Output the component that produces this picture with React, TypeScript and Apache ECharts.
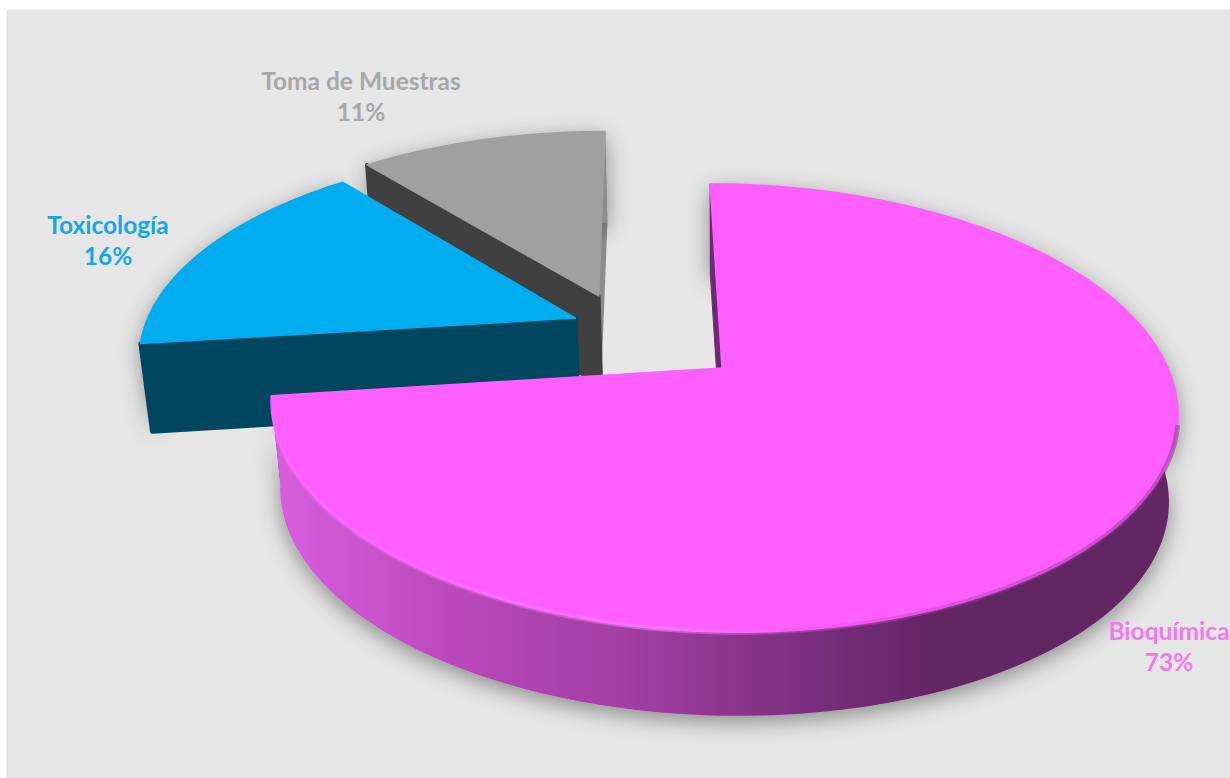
import React, { useEffect, useRef } from "react";
import * as echarts from "echarts";

const categories = ["Bioquímica", "Toxicología", "Toma de Muestras"];
const shares = [73, 16, 11];
const topColors = ["#FF5FFF", "#00AEEF", "#A0A0A0"];
const frontCutColors = ["#682A70", "#00465F", "#404040"];
const backCutColors = ["#622663", "#00465F", "#8C8C8C"];
const wallColors = ["#622663", "#00465F", "#8C8C8C"];
const labelColors = ["#F478F0", "#12A8EA", "#A8A8A8"];
// Label centres in page pixels
const labelCentres = [[1169, 646], [108, 240], [361, 96]];
// How far each slice is pulled out, in disc radii (across, towards the viewer)
const pullOut = [[0, 0], [-0.335, -0.24], [-0.283, -0.353]];
const drawOrder = [20, 10, 0];

// Perspective of the disc
const originX = 722;
const originY = 368;
const radiusX = 446;
const radiusY = 217;
const shear = 14;
const depthK = 0.1786;
const wallBase = 433;
const wallTop = 345;

type Pt = [number, number];

function project(u: number, v: number): Pt {
  const w = 1 - depthK * v;
  return [originX + (radiusX * u + shear * v) / w, originY + (radiusY * v) / w];
}
function lower(p: Pt): Pt {
  return [originX + (p[0] - originX) * 0.98, wallBase + (p[1] - wallTop) * 0.985];
}
function arcPoints(off: number[], a0: number, a1: number): Pt[] {
  const pts: Pt[] = [];
  const n = Math.max(8, Math.ceil(Math.abs(a1 - a0) / 1.5));
  for (let i = 0; i <= n; i++) {
    const t = ((a0 + ((a1 - a0) * i) / n) * Math.PI) / 180;
    pts.push(project(off[0] + Math.sin(t), off[1] - Math.cos(t)));
  }
  return pts;
}

const total = shares.reduce((a, b) => a + b, 0);

function renderSlice(params: any, api: any) {
  const i = params.dataIndex;
  const value = api.value(0);
  let before = 0;
  for (let k = 0; k < i; k++) before += shares[k];
  const a0 = (before / total) * 360;
  const a1 = ((before + value) / total) * 360;
  const off = pullOut[i];
  const apex = project(off[0], off[1]);
  const rim = arcPoints(off, a0, a1);
  const base = rim.map(lower);
  const z = drawOrder[i];
  const wallPoly = rim.concat(base.slice().reverse());
  const isMain = i === 0;
  const wallFill = isMain
    ? new echarts.graphic.LinearGradient(275, 0, 1000, 0, [
        { offset: 0, color: "#D85EDE" },
        { offset: 0.3, color: "#B445B5" },
        { offset: 0.5, color: "#A03EA2" },
        { offset: 0.72, color: "#7C2F80" },
        { offset: 0.92, color: "#622663" },
        { offset: 1, color: "#622663" },
      ], true)
    : wallColors[i];
  const first = rim[0];
  const last = rim[rim.length - 1];
  const children: any[] = [
    {
      type: "polygon",
      z2: z,
      shape: { points: [last, apex, lower(apex), lower(last)] },
      style: { fill: backCutColors[i] },
    },
    {
      type: "polygon",
      z2: z + 1,
      shape: { points: wallPoly },
      style: { fill: wallFill, shadowBlur: 22, shadowColor: "rgba(0,0,0,0.4)", shadowOffsetX: 0, shadowOffsetY: 6 },
    },
    {
      type: "polygon",
      z2: z + 2,
      shape: { points: [apex, first, lower(first), lower(apex)] },
      style: { fill: frontCutColors[i], stroke: frontCutColors[i], lineWidth: isMain ? 1 : 4, lineJoin: "round" },
    },
    {
      type: "polygon",
      z2: z + 3,
      shape: { points: [apex, ...rim] },
      style: { fill: topColors[i], stroke: topColors[i], lineWidth: 1.5, lineJoin: "round" },
    },
  ];
  if (isMain) {
    const edge = new echarts.graphic.LinearGradient(275, 0, 1177, 0, [
      { offset: 0, color: "rgba(255,120,255,0.25)" },
      { offset: 0.42, color: "rgba(255,140,255,0.6)" },
      { offset: 0.6, color: "rgba(225,85,225,0.5)" },
      { offset: 0.8, color: "rgba(165,60,170,0.55)" },
      { offset: 1, color: "rgba(130,50,135,0.6)" },
    ], true);
    const frontRim = rim.filter((p) => p[1] > 420);
    children.push({
      type: "polyline",
      z2: z + 4,
      shape: { points: frontRim },
      style: { fill: "none", stroke: edge, lineWidth: 5, opacity: 0.8 },
    });
  }
  children.push({
    type: "text",
    z2: 40,
    style: {
      text: `${categories[i]}\n${value}%`,
      x: labelCentres[i][0],
      y: labelCentres[i][1],
      fill: labelColors[i],
      font: "bold 24.5px Lato",
      lineHeight: 31,
      textAlign: "center",
      textVerticalAlign: "middle",
    },
  });
  return { type: "group", children };
}

export default function App() {
  const ref = useRef<HTMLDivElement>(null);
  useEffect(() => {
    const chart = echarts.init(ref.current!, undefined, { renderer: "svg" });
    chart.setOption({
      animation: false,
      backgroundColor: "#FFFFFF",
      graphic: [
        {
          type: "rect",
          z: -1,
          shape: { x: 7, y: 10, width: 1240, height: 790, r: 3 },
          style: { fill: "#E7E6E6", stroke: "#DEDDDD", lineWidth: 1 },
        },
      ],
      series: [
        {
          type: "custom",
          coordinateSystem: "none",
          animation: false,
          renderItem: renderSlice,
          data: shares.map((v, i) => ({ name: categories[i], value: [v] })),
        },
      ],
    });
    return () => chart.dispose();
  }, []);
  return <div ref={ref} style={{ position: "fixed", left: 0, top: 0, width: 1230, height: 778 }} />;
}
